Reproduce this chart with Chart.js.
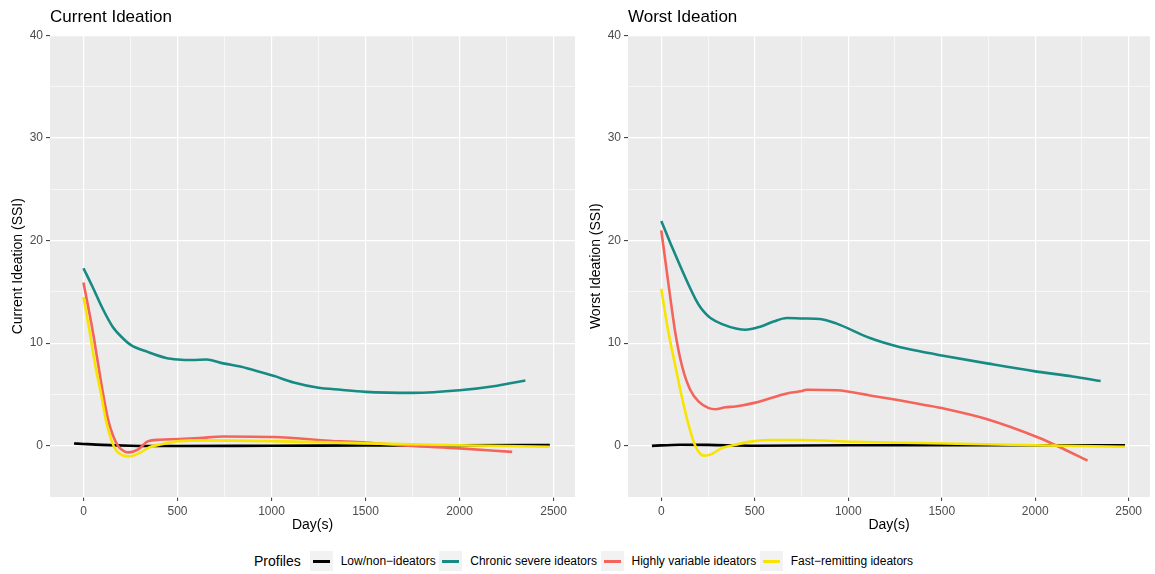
<!DOCTYPE html>
<html><head><meta charset="utf-8">
<script src="https://cdn.jsdelivr.net/npm/chart.js@4"></script>
<style>
body{margin:0;background:#fff;}
#wrap{position:relative;width:1155px;height:574px;font-family:"Liberation Sans",Arial,sans-serif;overflow:hidden;}
canvas{position:absolute;top:0;}
#c1{left:0}
#c2{left:578px}
#legend{position:absolute;top:551px;left:254px;display:flex;align-items:center;height:20px;white-space:nowrap;}
#legend .ttl{font-size:14px;color:#000;margin-right:9px;}
#legend .key{width:23px;height:20px;background:#F2F2F2;position:relative;flex:none;}
#legend .key i{position:absolute;left:3px;right:3px;top:9px;height:2.6px;}
#legend .lab{font-size:12px;color:#000;margin-left:8px;margin-right:3.5px;}
</style></head>
<body><div id="wrap">
<canvas id="c1" width="578" height="540"></canvas>
<canvas id="c2" width="577" height="540"></canvas>
<div id="legend"></div>
</div>
<script>
// ---- legend / series names ----
const profiles = ["Low/non\u2212ideators", "Chronic severe ideators", "Highly variable ideators", "Fast\u2212remitting ideators"];
const seriesColors = ["#000000", "#178A84", "#F4645A", "#F7E400"];

// ---- tick labels ----
const xTickLabels = [0, 500, 1000, 1500, 2000, 2500];
const xMinorTicks = [250, 750, 1250, 1750, 2250];
const yTickLabels = [0, 10, 20, 30, 40];
const yMinorTicks = [-5, 5, 15, 25, 35];

// ---- Current Ideation panel ----
const curLowDays = [-50, 0, 100, 250, 500, 1000, 1500, 2000, 2480];
const curLow = [0.22, 0.17, 0.08, 0.0, -0.03, 0.0, 0.02, 0.05, 0.07];
const curChronicDays = [0, 48, 101, 155, 208, 253, 333, 440, 502, 580, 655, 726, 869, 1011, 1118, 1243, 1368, 1500, 1750, 2000, 2200, 2350];
const curChronic = [17.3, 15.5, 13.4, 11.6, 10.5, 9.8, 9.2, 8.55, 8.4, 8.35, 8.4, 8.1, 7.56, 6.81, 6.17, 5.68, 5.45, 5.25, 5.15, 5.4, 5.85, 6.35];
const curVariableDays = [0, 48, 75, 102, 130, 157, 185, 217, 244, 289, 342, 404, 511, 617, 744, 1008, 1368, 1500, 1723, 2000, 2280];
const curVariable = [15.9, 11.3, 8.3, 5.3, 2.6, 1.0, -0.06, -0.55, -0.65, -0.39, 0.42, 0.58, 0.65, 0.75, 0.9, 0.85, 0.42, 0.32, 0.0, -0.26, -0.6];
const curFastDays = [0, 34, 62, 95, 120, 150, 175, 210, 244, 298, 351, 404, 511, 655, 1000, 1500, 2000, 2480];
const curFast = [14.5, 11.0, 7.9, 4.9, 2.4, 0.45, -0.5, -0.95, -1.04, -0.71, -0.15, 0.1, 0.45, 0.52, 0.45, 0.23, 0.05, -0.1];

// ---- Worst Ideation panel ----
const worLowDays = [-50, 100, 250, 500, 1000, 1500, 2000, 2480];
const worLow = [-0.02, 0.1, 0.08, 0.0, 0.05, 0.05, 0.05, 0.05];
const worChronicDays = [0, 50, 103, 156, 183, 209, 236, 263, 325, 405, 450, 529, 600, 672, 760, 849, 938, 1116, 1258, 1382, 1500, 1750, 2000, 2200, 2350];
const worChronic = [21.9, 19.7, 17.45, 15.3, 14.3, 13.5, 12.9, 12.45, 11.85, 11.4, 11.3, 11.6, 12.1, 12.45, 12.4, 12.35, 11.9, 10.5, 9.7, 9.2, 8.8, 8.0, 7.25, 6.75, 6.3];
const worVariableDays = [0, 25, 50, 76, 112, 156, 200, 254, 289, 343, 396, 503, 672, 743, 778, 938, 1116, 1265, 1400, 1516, 1739, 2016, 2115, 2280];
const worVariable = [21.0, 17.6, 14.2, 10.9, 7.7, 5.4, 4.3, 3.66, 3.56, 3.75, 3.82, 4.2, 5.1, 5.3, 5.45, 5.4, 4.9, 4.45, 4.0, 3.6, 2.6, 0.8, 0.0, -1.45];
const worFastDays = [0, 20, 41, 76, 112, 147, 183, 227, 263, 325, 396, 485, 600, 750, 1027, 1382, 2000, 2480];
const worFast = [15.3, 13.0, 10.8, 7.7, 4.6, 1.95, -0.06, -0.97, -0.87, -0.23, 0.1, 0.42, 0.55, 0.55, 0.39, 0.26, 0.05, -0.1];

Chart.defaults.font.family = "'Liberation Sans', Arial, sans-serif";

const panelBg = {
  id: 'panelBg',
  beforeDraw(chart) {
    const { ctx, chartArea: a } = chart;
    ctx.save();
    ctx.fillStyle = '#EBEBEB';
    ctx.fillRect(a.left, a.top, a.right - a.left, a.bottom - a.top);
    ctx.restore();
  }
};

function pts(xs, ys) { return xs.map((x, i) => ({ x: x, y: ys[i] })); }

function makeDatasets(sets) {
  const orders = [3, 2, 1, 0];
  return sets.map((s, i) => ({
    label: profiles[i],
    data: pts(s[0], s[1]),
    borderColor: seriesColors[i],
    backgroundColor: seriesColors[i],
    borderWidth: 2.6,
    pointRadius: 0,
    fill: false,
    cubicInterpolationMode: 'monotone',
    order: orders[i]
  }));
}

function makeChart(id, title, yTitle, padRight, sets) {
  const xAll = xTickLabels.concat(xMinorTicks).sort((a, b) => a - b);
  const yAll = yTickLabels.concat(yMinorTicks).sort((a, b) => a - b);
  return new Chart(document.getElementById(id), {
    type: 'line',
    data: { datasets: makeDatasets(sets) },
    plugins: [panelBg],
    options: {
      responsive: false,
      animation: false,
      layout: { padding: { left: 0, right: padRight, top: 0, bottom: 0 } },
      plugins: {
        legend: { display: false },
        tooltip: { enabled: false },
        title: {
          display: true, text: title, align: 'start', fullSize: false,
          color: '#000', font: { size: 17, weight: 'normal' },
          padding: { top: 7, bottom: 8 }
        }
      },
      scales: {
        x: {
          type: 'linear', min: -178, max: 2614,
          afterBuildTicks: s => { s.ticks = xAll.map(v => ({ value: v })); },
          afterFit: s => { s.height = 43; },
          ticks: {
            autoSkip: false, maxRotation: 0, padding: 3,
            color: '#4D4D4D', font: { size: 12 },
            callback: v => xTickLabels.includes(v) ? String(v) : ''
          },
          grid: {
            color: '#FFFFFF',
            lineWidth: c => (c.tick && xTickLabels.includes(c.tick.value)) ? 1.2 : 0.6,
            tickLength: 4, tickWidth: 1,
            tickColor: c => (c.tick && xTickLabels.includes(c.tick.value)) ? '#333333' : 'rgba(0,0,0,0)'
          },
          border: { display: false },
          title: { display: true, text: 'Day(s)', color: '#000', font: { size: 14 }, padding: { top: 0, bottom: 6.5 } }
        },
        y: {
          type: 'linear', min: -5, max: 40,
          afterBuildTicks: s => { s.ticks = yAll.map(v => ({ value: v })); },
          afterFit: s => { s.width = 50; },
          ticks: {
            autoSkip: false, padding: 3,
            color: '#4D4D4D', font: { size: 12 },
            callback: v => yTickLabels.includes(v) ? String(v) : ''
          },
          grid: {
            color: '#FFFFFF',
            lineWidth: c => (c.tick && yTickLabels.includes(c.tick.value)) ? 1.2 : 0.6,
            tickLength: 4, tickWidth: 1,
            tickColor: c => (c.tick && yTickLabels.includes(c.tick.value)) ? '#333333' : 'rgba(0,0,0,0)'
          },
          border: { display: false },
          title: { display: true, text: yTitle, color: '#000', font: { size: 14 }, padding: { top: 10, bottom: 0 } }
        }
      }
    }
  });
}

makeChart('c1', 'Current Ideation', 'Current Ideation (SSI)', 3, [
  [curLowDays, curLow], [curChronicDays, curChronic], [curVariableDays, curVariable], [curFastDays, curFast]
]);
makeChart('c2', 'Worst Ideation', 'Worst Ideation (SSI)', 5, [
  [worLowDays, worLow], [worChronicDays, worChronic], [worVariableDays, worVariable], [worFastDays, worFast]
]);

// ---- legend ----
const lg = document.getElementById('legend');
const t = document.createElement('span'); t.className = 'ttl'; t.textContent = 'Profiles'; lg.appendChild(t);
profiles.forEach((p, i) => {
  const k = document.createElement('span'); k.className = 'key';
  const ln = document.createElement('i'); ln.style.background = seriesColors[i]; k.appendChild(ln);
  lg.appendChild(k);
  const l = document.createElement('span'); l.className = 'lab'; l.textContent = p; lg.appendChild(l);
});
</script>
</body></html>
